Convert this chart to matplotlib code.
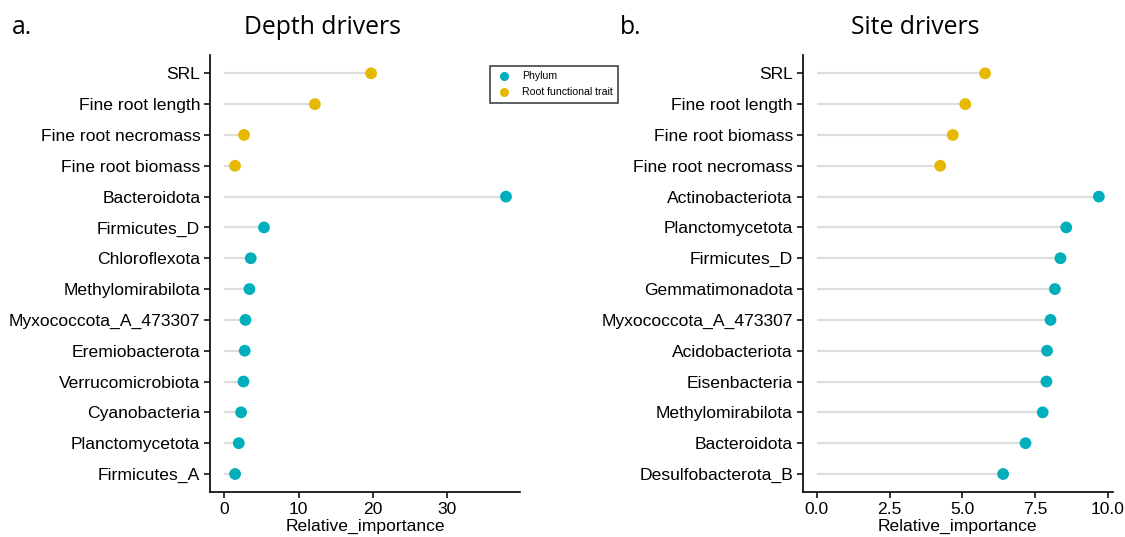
import numpy as np
import matplotlib
matplotlib.use("Agg")
import matplotlib.pyplot as plt
from matplotlib.lines import Line2D

# depth drivers (top to bottom)
depth_labels = ["SRL", "Fine root length", "Fine root necromass", "Fine root biomass",
                "Bacteroidota", "Firmicutes_D", "Chloroflexota", "Methylomirabilota",
                "Myxococcota_A_473307", "Eremiobacterota", "Verrucomicrobiota",
                "Cyanobacteria", "Planctomycetota", "Firmicutes_A"]
depth_values = [19.76, 12.2, 2.68, 1.47, 37.9, 5.36, 3.58, 3.4, 2.87, 2.77, 2.6,
                2.28, 1.97, 1.47]
depth_groups = ["trait"] * 4 + ["phylum"] * 10

# site drivers (top to bottom)
site_labels = ["SRL", "Fine root length", "Fine root biomass", "Fine root necromass",
               "Actinobacteriota", "Planctomycetota", "Firmicutes_D", "Gemmatimonadota",
               "Myxococcota_A_473307", "Acidobacteriota", "Eisenbacteria",
               "Methylomirabilota", "Bacteroidota", "Desulfobacterota_B"]
site_values = [5.78, 5.10, 4.67, 4.24, 9.69, 8.57, 8.37, 8.18, 8.03, 7.91, 7.89,
               7.76, 7.17, 6.40]
site_groups = ["trait"] * 4 + ["phylum"] * 10

COLORS = {"phylum": "#00AFBB", "trait": "#E7B800"}
LABEL_FONT = ["Liberation Sans", "DejaVu Sans"]
TITLE_FONT = ["Open Sans", "DejaVu Sans"]
FS = 12.6

fig = plt.figure(figsize=(11.25, 5.37), dpi=100)
ax1 = fig.add_axes([0.1867, 0.0829, 0.2756, 0.815])
ax2 = fig.add_axes([0.7135, 0.0829, 0.2758, 0.815])


def lollipop(ax, labels, values, groups):
    n = len(labels)
    y = np.arange(n)[::-1]
    ax.hlines(y, 0, values, color="#DDDDDD", lw=1.6, zorder=1)
    ax.scatter(values, y, s=72, c=[COLORS[g] for g in groups], zorder=2,
               edgecolors="none")
    ax.set_yticks(y)
    ax.set_yticklabels(labels, fontsize=FS, family=LABEL_FONT)
    ax.set_ylim(-0.6, n - 1 + 0.6)
    vmax = max(values)
    ax.set_xlim(-0.05 * vmax, vmax * 1.05)
    for s in ["top", "right"]:
        ax.spines[s].set_visible(False)
    for s in ["left", "bottom"]:
        ax.spines[s].set_linewidth(1.2)
    ax.tick_params(axis="both", length=4, width=1.1, colors="black",
                   labelsize=FS, pad=3)
    ax.set_xlabel("Relative_importance", fontsize=FS, family=LABEL_FONT, labelpad=1)


lollipop(ax1, depth_labels, depth_values, depth_groups)
ax1.set_xticks([0, 10, 20, 30])
ax1.set_xticklabels(["0", "10", "20", "30"], family=LABEL_FONT, fontsize=FS)

lollipop(ax2, site_labels, site_values, site_groups)
ax2.set_xticks([0, 2.5, 5, 7.5, 10])
ax2.set_xticklabels(["0.0", "2.5", "5.0", "7.5", "10.0"], family=LABEL_FONT, fontsize=FS)

handles = [Line2D([], [], marker="o", ls="none", color=COLORS["phylum"], ms=5.5),
           Line2D([], [], marker="o", ls="none", color=COLORS["trait"], ms=5.5)]
leg = ax1.legend(handles, ["Phylum", "Root functional trait"],
                 loc="upper left", bbox_to_anchor=(0.903, 0.974), borderaxespad=0,
                 prop={"family": LABEL_FONT, "size": 7.6}, frameon=True,
                 fancybox=False, edgecolor="black", handletextpad=0.9,
                 borderpad=0.5, labelspacing=0.55, handlelength=1.6)
leg.get_frame().set_linewidth(1.1)

fig.text(322 / 1125, 1 - 27 / 537, "Depth drivers", fontsize=17.8, family=TITLE_FONT,
         ha="center", va="center")
fig.text(915 / 1125, 1 - 27 / 537, "Site drivers", fontsize=17.8, family=TITLE_FONT,
         ha="center", va="center")
fig.text(12 / 1125, 1 - 27 / 537, "a.", fontsize=17.8, family=TITLE_FONT,
         ha="left", va="center")
fig.text(620 / 1125, 1 - 27 / 537, "b.", fontsize=17.8, family=TITLE_FONT,
         ha="left", va="center")

fig.savefig("out.png", dpi=100)
